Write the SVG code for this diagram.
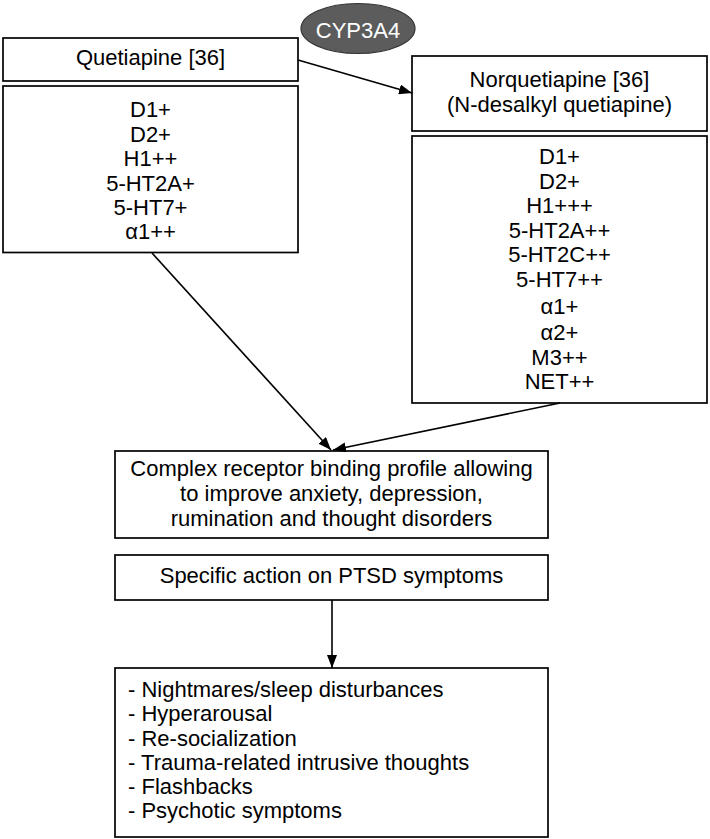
<svg xmlns="http://www.w3.org/2000/svg" width="710" height="839" viewBox="0 0 710 839">
<style>
.box{fill:#fff;stroke:#000;stroke-width:1.7}
.t{font-family:"Liberation Sans",Arial,sans-serif;font-size:22px;fill:#000}
.c{text-anchor:middle}
.conn{stroke:#000;stroke-width:1.6;fill:none}
</style>
<defs>
<marker id="ah" viewBox="0 0 13 10" markerWidth="13" markerHeight="10" refX="13" refY="5" orient="auto" markerUnits="userSpaceOnUse">
<path d="M0,0 L13,5 L0,10 z" fill="#000"/>
</marker>
</defs>
<rect width="710" height="839" fill="#fff"/>
<g id="cyp3a4">
<ellipse cx="358" cy="28.5" rx="57" ry="25" fill="#5c5c5c" stroke="#333" stroke-width="1.2"/>
<text class="t c" x="358" y="38" style="fill:#fff">CYP3A4</text>
</g>
<g id="quetiapine">
<rect class="box" x="3" y="38" width="295" height="43"/>
<text class="t c" x="150.5" y="65">Quetiapine [36]</text>
</g>
<g id="quetiapine-receptors">
<rect class="box" x="3" y="86" width="295" height="166.5"/>
<text class="t c" x="150.5" y="117">D1+</text>
<text class="t c" x="150.5" y="141.5">D2+</text>
<text class="t c" x="150.5" y="166">H1++</text>
<text class="t c" x="150.5" y="190.5">5-HT2A+</text>
<text class="t c" x="150.5" y="215">5-HT7+</text>
<text class="t c" x="150.5" y="239">α1++</text>
</g>
<g id="norquetiapine">
<rect class="box" x="412" y="56" width="295" height="75"/>
<text class="t c" x="559.5" y="87">Norquetiapine [36]</text>
<text class="t c" x="559.5" y="112">(N-desalkyl quetiapine)</text>
</g>
<g id="norquetiapine-receptors">
<rect class="box" x="412" y="136" width="295" height="267"/>
<text class="t c" x="559.5" y="164">D1+</text>
<text class="t c" x="559.5" y="188.5">D2+</text>
<text class="t c" x="559.5" y="213">H1+++</text>
<text class="t c" x="559.5" y="237.5">5-HT2A++</text>
<text class="t c" x="559.5" y="262">5-HT2C++</text>
<text class="t c" x="559.5" y="286.5">5-HT7++</text>
<text class="t c" x="559.5" y="314">α1+</text>
<text class="t c" x="559.5" y="340">α2+</text>
<text class="t c" x="559.5" y="365">M3++</text>
<text class="t c" x="559.5" y="389">NET++</text>
</g>
<g id="complex-profile">
<rect class="box" x="115" y="451" width="433" height="87"/>
<text class="t c" x="331.5" y="476">Complex receptor binding profile allowing</text>
<text class="t c" x="331.5" y="501">to improve anxiety, depression,</text>
<text class="t c" x="331.5" y="526">rumination and thought disorders</text>
</g>
<g id="specific-action">
<rect class="box" x="115" y="555" width="433" height="45"/>
<text class="t c" x="331.5" y="583">Specific action on PTSD symptoms</text>
</g>
<g id="symptoms">
<rect class="box" x="115" y="668" width="433" height="169"/>
<text class="t" x="128" y="697">- Nightmares/sleep disturbances</text>
<text class="t" x="128" y="721">- Hyperarousal</text>
<text class="t" x="128" y="745.5">- Re-socialization</text>
<text class="t" x="128" y="770">- Trauma-related intrusive thoughts</text>
<text class="t" x="128" y="794">- Flashbacks</text>
<text class="t" x="128" y="818">- Psychotic symptoms</text>
</g>
<g id="connectors">
<line class="conn" x1="298" y1="60" x2="412" y2="93" marker-end="url(#ah)"/>
<line class="conn" x1="152" y1="253" x2="331" y2="450" marker-end="url(#ah)"/>
<line class="conn" x1="560" y1="403" x2="333" y2="450" marker-end="url(#ah)"/>
<line class="conn" x1="332" y1="600" x2="332" y2="668" marker-end="url(#ah)"/>
</g>
</svg>
